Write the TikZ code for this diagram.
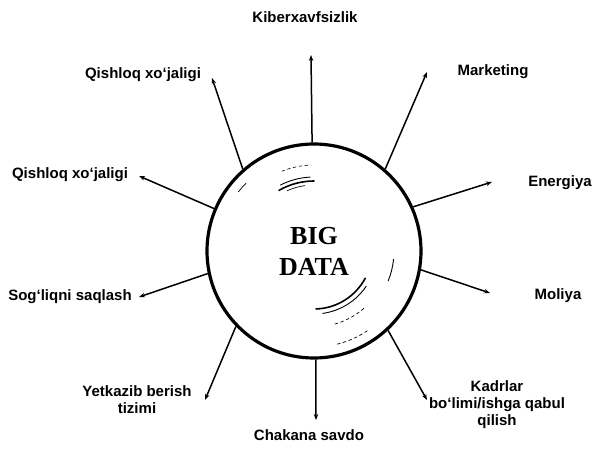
\documentclass[tikz,border=0pt]{standalone}
\usepackage{fontspec}
\setmainfont{Liberation Sans}
\newfontfamily\bigserif{Liberation Serif}
\usetikzlibrary{arrows.meta}
\begin{document}
\begin{tikzpicture}[x=1pt,y=1pt,
  lbl/.style={font=\fontsize{15}{17}\selectfont\bfseries, align=center, inner sep=1pt},
  arr/.style={line width=1.5pt, -{Stealth[length=6pt,width=4.5pt]}},
  refl/.style={line width=1.2pt, line cap=round}]
\useasboundingbox (0,0) rectangle (592,466);
\node[circle, draw, line width=3.2pt, minimum size=214pt, inner sep=0pt,
      font=\bigserif\bfseries\fontsize{26}{31}\selectfont, align=center] (c) at (314,215) {BIG\\DATA};
% reflections
\draw[refl, line width=1.6pt] ([shift={(120:70pt)}]c.center) arc[start angle=120, end angle=90, radius=70pt];
\draw[refl, line width=0.9pt] ([shift={(117:74pt)}]c.center) arc[start angle=117, end angle=93, radius=74pt];
\draw[refl, line width=0.7pt] ([shift={(114:66pt)}]c.center) arc[start angle=114, end angle=98, radius=66pt];
\draw[refl, line width=0.6pt, dashed] ([shift={(112:86pt)}]c.center) arc[start angle=112, end angle=92, radius=86pt];
\draw[refl, line width=0.7pt] ([shift={(142:96pt)}]c.center) arc[start angle=142, end angle=135, radius=96pt];
\draw[refl, line width=1.6pt] ([shift={(-88:58pt)}]c.center) arc[start angle=-88, end angle=-28, radius=58pt];
\draw[refl, line width=0.9pt] ([shift={(-82:63pt)}]c.center) arc[start angle=-82, end angle=-34, radius=63pt];
\draw[refl, line width=0.7pt, dashed] ([shift={(-74:76pt)}]c.center) arc[start angle=-74, end angle=-48, radius=76pt];
\draw[refl, line width=0.7pt, dashed] ([shift={(-76:96pt)}]c.center) arc[start angle=-76, end angle=-56, radius=96pt];
\draw[refl, line width=0.9pt] ([shift={(-22:80pt)}]c.center) arc[start angle=-22, end angle=-6, radius=80pt];
% labels
\node[lbl] (l1) at (305,449) {Kiberxavfsizlik};
\node[lbl] (l2) at (493,394) {Marketing};
\node[lbl] (l3) at (560,283) {Energiya};
\node[lbl] (l4) at (558,170) {Moliya};
\node[lbl] (l5) at (497,61) {Kadrlar\\bo`limi/ishga qabul\\qilish};
\node[lbl] (l6) at (309,31) {Chakana savdo};
\node[lbl] (l7) at (137,66) {Yetkazib berish\\tizimi};
\node[lbl] (l8) at (70,169) {Sog`liqni saqlash};
\node[lbl] (l9) at (70,291) {Qishloq xo`jaligi};
\node[lbl] (l10) at (143,391) {Qishloq xo`jaligi};
% arrow tips
\coordinate (t1) at (311,411);
\coordinate (t2) at (427,394);
\coordinate (t3) at (492,284);
\coordinate (t4) at (490,173);
\coordinate (t5) at (427,66);
\coordinate (t6) at (316,46);
\coordinate (t7) at (205,66);
\coordinate (t8) at (139,169);
\coordinate (t9) at (139,290);
\coordinate (t10) at (212,388);
\draw[arr] (c.91) -- (t1);
\draw[arr] (c.49) -- (t2);
\draw[arr] (c.24) -- (t3);
\draw[arr] (c.-10) -- (t4);
\draw[arr] (c.-47) -- (t5);
\draw[arr] (c.-89) -- (t6);
\draw[arr] (c.-136) -- (t7);
\draw[arr] (c.192) -- (t8);
\draw[arr] (c.157) -- (t9);
\draw[arr] (c.131) -- (t10);
\end{tikzpicture}
\end{document}
